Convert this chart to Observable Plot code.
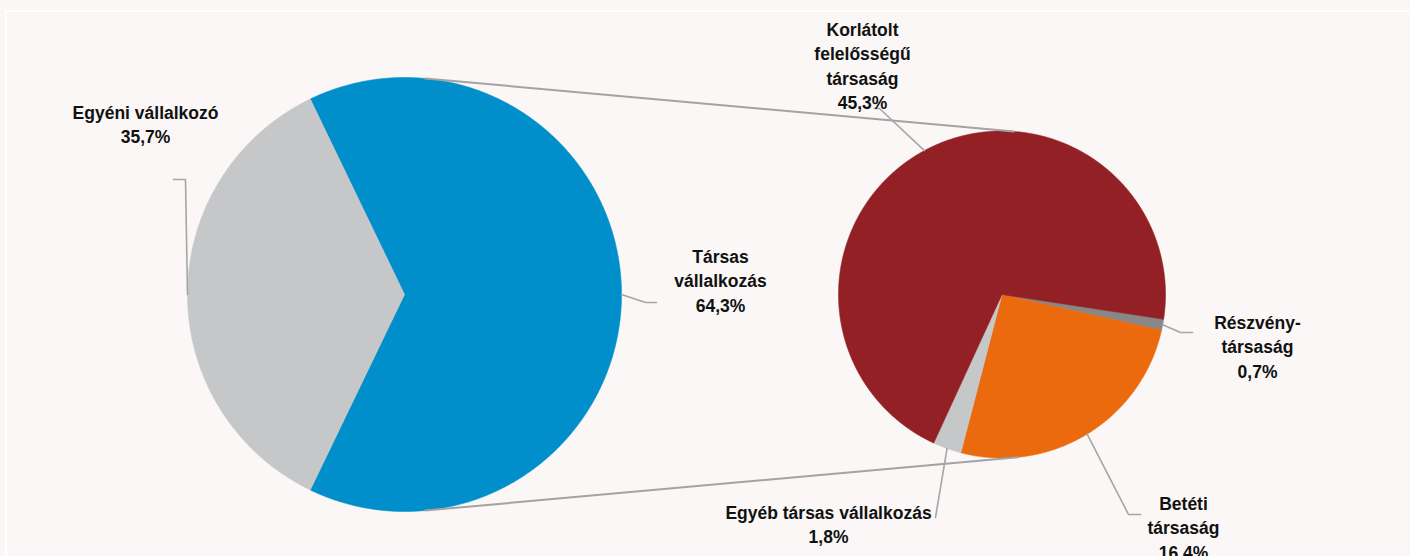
<!DOCTYPE html>
<html>
<head>
<meta charset="utf-8">
<script src="https://cdn.jsdelivr.net/npm/d3@7"></script>
<script src="https://cdn.jsdelivr.net/npm/@observablehq/plot@0.6"></script>
<style>
  html, body { margin: 0; padding: 0; background: #FAF7F6; }
  #wrap { position: relative; width: 1410px; height: 556px; overflow: hidden; background: #FAF7F6; }
  #frame { position: absolute; left: 5px; top: 10px; width: 1420px; height: 560px;
           border-top: 2px solid #FFFFFF; border-left: 2px solid #FFFFFF; }
  #chart { position: absolute; left: 0; top: 0; }
</style>
</head>
<body>
<div id="wrap"><div id="frame"></div><div id="chart"></div></div>
<script>
// ---------- data ----------
const leftCategories = ["Társas vállalkozás", "Egyéni vállalkozó"];
const leftValues = [64.3, 35.7];
const leftLabels = ["Társas\nvállalkozás\n64,3%", "Egyéni vállalkozó\n35,7%"];

const rightCategories = ["Részvénytársaság", "Betéti társaság", "Egyéb társas vállalkozás", "Korlátolt felelősségű társaság"];
const rightValues = [0.7, 16.4, 1.8, 45.3];
const rightLabels = ["Részvény-\ntársaság\n0,7%", "Betéti\ntársaság\n16,4%", "Egyéb társas vállalkozás\n1,8%", "Korlátolt\nfelelősségű\ntársaság\n45,3%"];

// ---------- styles ----------
const leftColors = ["#008FCB", "#C6C7C9"];
const rightColors = ["#878787", "#EB6A0E", "#C6C7C9", "#922024"];

// ---------- layout (units: left pie radius = 1, y upwards) ----------
const W = 1410, H = 556, PX = 217, OX = 404, OY = 294;
const toU = ([px, py]) => [(px - OX) / PX, (OY - py) / PX];
const LEFT = {cx: 0, cy: 0, r: 1, start: (90 - 64.3 / 100 * 180) * Math.PI / 180};
const RIGHT = {cx: (1001.5 - OX) / PX, cy: 0, r: 163.5 / PX, start: 98.7 * Math.PI / 180};
const leftLabelPos = [[720, 245], [145, 101]];
const rightLabelPos = [[1257, 311], [1183, 492], [828, 501], [862, 18]];
const leftElbows = [[[645, 302], [656, 302]], [[185, 179], [173, 179]]];
const rightElbows = [[[1180, 332], [1192, 332]], [[1128, 514], [1140, 514]], [[935, 517]], [[879, 108], [874, 108]]];
const connectorAngles = [[5.5, 4.2], [174.5, 174.4]];

const polar = (c, r, a) => [c.cx + r * Math.sin(a), c.cy + r * Math.cos(a)];

function slices(circle, values, cats) {
  const arcs = d3.pie().sort(null).startAngle(circle.start).endAngle(circle.start + 2 * Math.PI)(values);
  const pts = [];
  arcs.forEach((a, i) => {
    const key = cats[i];
    pts.push({key, i, p: [circle.cx, circle.cy]});
    const n = Math.max(2, Math.ceil((a.endAngle - a.startAngle) / (0.25 * Math.PI / 180)));
    for (let k = 0; k <= n; k++) {
      const t = a.startAngle + (a.endAngle - a.startAngle) * k / n;
      pts.push({key, i, p: polar(circle, circle.r, t)});
    }
    pts.push({key, i, p: [circle.cx, circle.cy]});
  });
  return {arcs, pts};
}

const L = slices(LEFT, leftValues, leftCategories);
const R = slices(RIGHT, rightValues, rightCategories);

const leftPts = L.pts.map(d => ({...d, color: leftColors[d.i]}));
const rightPts = R.pts.map(d => ({...d, color: rightColors[d.i]}));

// leader lines
const leaders = [];
L.arcs.forEach((a, i) => {
  const mid = (a.startAngle + a.endAngle) / 2;
  const pts = [polar(LEFT, LEFT.r, mid), ...leftElbows[i].map(toU)];
  pts.forEach(p => leaders.push({key: "L" + i, p}));
});
R.arcs.forEach((a, i) => {
  const mid = (a.startAngle + a.endAngle) / 2;
  const pts = [polar(RIGHT, RIGHT.r, mid), ...rightElbows[i].map(toU)];
  pts.forEach(p => leaders.push({key: "R" + i, p}));
});

// connectors between pies
const connectors = [];
connectorAngles.forEach(([al, ar], j) => {
  connectors.push({key: j, p: polar(LEFT, LEFT.r, al * Math.PI / 180)});
  connectors.push({key: j, p: polar(RIGHT, RIGHT.r, ar * Math.PI / 180)});
});

const labels = [
  ...leftLabels.map((t, i) => ({t, p: toU(leftLabelPos[i])})),
  ...rightLabels.map((t, i) => ({t, p: toU(rightLabelPos[i])}))
];

const chart = Plot.plot({
  width: W, height: H,
  marginTop: 0, marginRight: 0, marginBottom: 0, marginLeft: 0,
  x: {domain: [-OX / PX, (W - OX) / PX], axis: null},
  y: {domain: [-(H - OY) / PX, OY / PX], axis: null},
  style: {background: "transparent"},
  marks: [
    Plot.line(leftPts, {x: d => d.p[0], y: d => d.p[1], z: "key", fill: "color", stroke: "color", strokeWidth: 0.6, curve: "linear"}),
    Plot.line(rightPts, {x: d => d.p[0], y: d => d.p[1], z: "key", fill: "color", stroke: "color", strokeWidth: 0.6, curve: "linear"}),
    Plot.line(connectors, {x: d => d.p[0], y: d => d.p[1], z: "key", stroke: "#A3A3A3", strokeWidth: 2}),
    Plot.line(leaders, {x: d => d.p[0], y: d => d.p[1], z: "key", stroke: "#A6A6A6", strokeWidth: 1.6}),
    Plot.text(labels, {x: d => d.p[0], y: d => d.p[1], text: "t", lineAnchor: "top", textAnchor: "middle",
      lineHeight: 1.4, fontSize: 17.5, fontWeight: "bold", fontFamily: "Liberation Sans, Arial, sans-serif", fill: "#111111"})
  ]
});
document.getElementById("chart").appendChild(chart);
</script>
</body>
</html>
